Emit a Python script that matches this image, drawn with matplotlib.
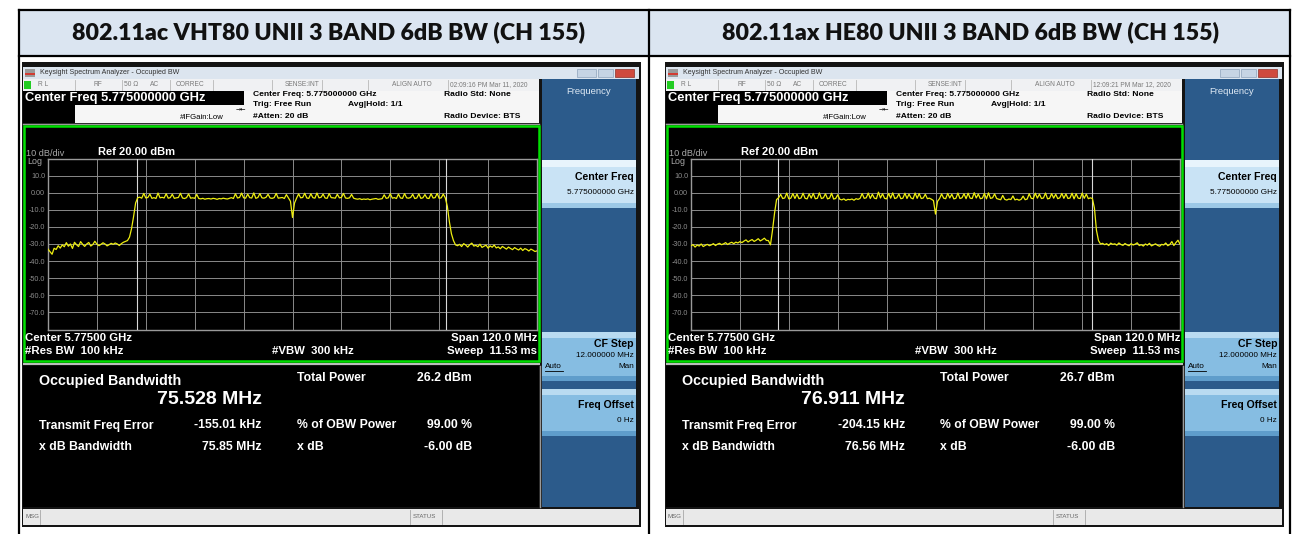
import numpy as np
import matplotlib
matplotlib.use('Agg')
import matplotlib.pyplot as plt
from matplotlib.patches import Rectangle

plt.rcParams['font.family'] = ['Liberation Sans', 'DejaVu Sans']

W, H = 1292, 534

TITLES = ['802.11ac VHT80 UNII 3 BAND 6dB BW (CH 155)',
          '802.11ax HE80 UNII 3 BAND 6dB BW (CH 155)']
TIMESTAMPS = ['02:09:16 PM Mar 11, 2020', '12:09:21 PM Mar 12, 2020']
OBW = ['75.528 MHz', '76.911 MHz']
TOTAL_POWER = ['26.2 dBm', '26.7 dBm']
FREQ_ERROR = ['-155.01 kHz', '-204.15 kHz']
XDB_BW = ['75.85 MHz', '76.56 MHz']
OBW_PCT = ['99.00 %', '99.00 %']
XDB = ['-6.00 dB', '-6.00 dB']
MARKERS = [(5736.9, 5812.7), (5736.3, 5813.3)]

FREQ_START, FREQ_STOP = 5715.0, 5835.0
DIV_MHZ = 12
REF_DBM, DB_DIV = 20, 10
Y_LABELS = ['10.0', '0.00', '-10.0', '-20.0', '-30.0', '-40.0', '-50.0', '-60.0', '-70.0']
Y_LEVELS = [10, 0, -10, -20, -30, -40, -50, -60, -70]

# trace levels in dBm, 0.5 MHz apart from 5715 to 5835 MHz
TRACE_AC = [
    -33.0, -34.5, -36.0, -32.5, -33.2, -31.0, -32.4, -30.5, -31.6, -29.2,
    -31.3, -30.0, -32.6, -29.0, -30.4, -31.5, -28.6, -30.2, -31.4, -30.0,
    -29.1, -31.2, -30.3, -28.4, -30.1, -31.0, -30.2, -29.3, -30.0, -31.1,
    -30.4, -29.6, -30.2, -29.4, -30.0, -30.9, -29.8, -29.0, -28.5,
    -28.0, -26.0, -21.0, -14.0, -6.0,
    -3.0, -2.6, -3.2, -0.4, -3.1, -2.8, -0.8, -3.3, -2.9, -3.4,
    -0.2, -3.0, -2.7, -3.1, -0.6, -3.2, -2.9, -0.9, -3.3, -3.0,
    -2.8, -0.3, -3.1, -3.4, -2.9, -0.7, -3.2, -3.0, -3.3, -1.0,
    -3.4, -3.6, -3.3, -3.8, -3.5, -3.4, -3.7, -3.3, -3.5, -3.9,
    -3.4, -3.6, -3.2, -3.5, -3.7, -3.3, -2.9, -3.4,
    -0.6, -3.1, -2.8, -0.2, -3.0, -3.2, -0.8, -2.9, -3.1, -0.1,
    -3.3, -2.8, -0.5, -3.0, -3.2, -2.7, -0.9, -3.1, -3.3, -2.9,
    -0.4, -3.2, -3.0, -2.8, -3.4, -1.1, -3.1, -5.0,
    -14.5,
    -6.0, -3.2, -0.7, -3.0, -2.8, -0.3, -3.1, -3.3, -0.6, -2.9,
    -3.2, -0.2, -3.0, -2.7, -0.8, -3.1, -3.3, -0.5, -2.9, -3.0,
    -3.2, -0.9, -3.0, -2.8, -0.4, -3.1, -3.3, -3.0, -1.0, -3.2,
    -3.6, -3.8, -3.5, -4.0, -3.7, -3.9, -3.6, -4.1, -3.8, -3.6,
    -3.4, -3.9, -3.7, -3.5,
    -1.2, -3.3, -3.0, -0.6, -3.2, -2.9, -3.4, -0.8, -3.1, -3.3,
    -0.5, -3.0, -3.2, -2.8, -0.9, -3.4, -3.1, -0.7, -3.3, -3.0,
    -1.1, -3.2, -3.4, -0.6, -3.1, -2.9, -0.4, -3.3, -3.0, -0.8, -3.1,
    -8.0, -17.0, -24.0, -28.0, -30.5,
    -31.0, -30.2, -31.5, -29.8, -30.6, -31.8, -30.4, -29.5, -31.2, -30.8,
    -31.6, -30.1, -32.0, -31.3, -30.7, -32.4, -31.1, -31.9, -30.6, -32.3,
    -31.7, -32.8, -31.4, -32.2, -33.0, -31.8, -32.6, -33.3, -32.1, -32.9,
    -33.5, -32.4, -33.8, -32.7, -33.2, -34.1, -33.0, -33.6, -34.4, -34.0,
]

TRACE_AX = [
    -31.0, -30.4, -31.8, -30.6, -31.2, -30.0, -31.5, -30.8, -30.2, -31.0,
    -30.5, -29.8, -30.9, -30.1, -29.6, -30.4, -29.9, -29.2, -30.3, -29.5,
    -29.0, -29.8, -28.9, -29.4, -28.6, -29.2, -28.3, -27.6, -28.8, -28.0,
    -27.4, -28.5, -27.8, -26.9, -28.2, -27.5, -26.6, -27.9, -28.0,
    -30.5, -22.0, -12.0, -4.0, -3.0,
    -1.0, -3.4, -3.1, -0.2, -3.6, -3.2, -0.5, -3.4, -0.8, -3.5,
    -3.1, -0.3, -3.3, -3.6, -0.7, -3.2, -0.4, -3.5, -3.3, -0.1,
    -3.4, -3.0, -0.6, -3.6, -3.2, -0.3, -3.7, -3.4, -1.2,
    -3.8, -4.2, -3.6, -4.5, -3.9, -4.1, -3.7, -4.4, -3.5, -3.9, -3.3,
    -0.5, -3.3, -3.0, -0.2, -3.4, -0.9, -3.2, -3.5, 0.3, -3.1,
    -0.6, -3.3, -3.6, -0.4, -3.2, -0.1, -3.4, -3.0, -0.7, -3.5,
    -3.2, -0.3, -3.4, -0.8, -3.1, -3.6, -0.2, -3.3, -0.5, -3.4,
    -3.1, -0.9, -3.5, -3.2, -3.8,
    -4.6, -12.5,
    -5.0, -3.4, -0.7, -3.2, -3.5, -0.4, -3.1, -0.9, -3.6, -3.3,
    -0.2, -3.4, -3.0, -0.6, -3.5, -0.3, -3.2, -3.4, 0.0, -3.1,
    -0.8, -3.5, -3.2, -0.4, -3.6, -0.1, -3.3, -3.0, -0.7, -3.4,
    -3.8, -4.1, -1.6, -3.9, -4.3, -3.7, -4.0, -1.9, -4.2, -3.8,
    -4.4, -3.9, -2.0, -4.1, -3.7,
    -0.6, -3.3, -3.5, -0.3, -3.2, -0.8, -3.4, -3.1, -0.2, -3.6,
    -3.3, -0.5, -3.2, -0.9, -3.5, -3.0, -0.4, -3.3, -0.7, -3.4,
    -3.1, -0.3, -3.6, -0.6, -3.2, -3.4, -0.2, -3.3, -0.8, -3.5, -3.0,
    -3.4, -9.0, -22.0, -28.0, -30.0,
    -29.6, -30.4, -29.8, -30.9, -29.5, -30.2, -29.9, -30.7, -29.4, -30.3,
    -30.8, -29.7, -30.5, -31.0, -29.8, -30.6, -30.1, -29.3, -30.9, -30.4,
    -31.2, -30.0, -30.7, -29.6, -31.1, -30.5, -29.9, -30.8, -31.3, -30.2,
    -30.6, -29.4, -31.0, -30.3, -28.6, -30.9, -29.2, -27.8, -30.1,
]
TRACES = [TRACE_AC, TRACE_AX]

fig = plt.figure(figsize=(W / 100, H / 100), dpi=100)
bg = fig.add_axes([0, 0, 1, 1])
bg.set_xlim(0, W)
bg.set_ylim(H, 0)
bg.axis('off')


def box(x0, y0, x1, y1, fc, ec='none', lw=0, z=1):
    bg.add_patch(Rectangle((x0, y0), x1 - x0, y1 - y0, facecolor=fc,
                           edgecolor=ec, linewidth=lw, zorder=z))


def txt(x, y, s, size=6, color='black', weight='bold', ha='left', **kw):
    bg.text(x, y, s, fontsize=size, color=color, fontweight=weight,
            ha=ha, va='center', zorder=5, **kw)


# table
box(19, 10, 649, 56, '#dbe5f1')
box(649, 10, 1290, 56, '#dbe5f1')
for x in (19, 649, 1290):
    bg.plot([x, x], [10, 534], color='black', lw=1.6, zorder=6)
for y in (10, 56):
    bg.plot([19, 1290], [y, y], color='black', lw=1.6, zorder=6)
for x, t in zip((328, 971), TITLES):
    bg.text(x, 32, t, fontsize=16.7, fontweight='heavy',
            family=['Lato', 'DejaVu Sans'], ha='center', va='center', color='#111111')


def screen(k):
    o = 643 * k
    trace = TRACES[k]
    # window frame
    box(o + 22, 62, o + 641, 527, '#141414')
    # title bar
    box(o + 23, 67, o + 639, 79, '#dce5ef')
    box(o + 25, 69, o + 35, 77, '#9a9a9a')
    box(o + 25, 73, o + 35, 75, '#d23b32')
    txt(o + 40, 73, 'Keysight Spectrum Analyzer - Occupied BW', size=5.1,
        color='#333333', weight='normal')
    box(o + 577, 69, o + 596, 77, '#c6d4e4', ec='#8da2bb', lw=0.5)
    box(o + 598, 69, o + 613, 77, '#c6d4e4', ec='#8da2bb', lw=0.5)
    box(o + 615, 69, o + 634, 77, '#cf4a3e', ec='#8d3028', lw=0.5)
    # status row
    box(o + 23, 79, o + 539, 91, '#f0f1f3')
    box(o + 24, 81, o + 31, 89, '#22cc22')
    for sx in (75, 122, 170, 213, 272, 322, 368, 448):
        bg.plot([o + sx, o + sx], [80, 90], color='#b8b8b8', lw=0.6, zorder=2)
    for sx, s in [(38, 'R L'), (94, 'RF'), (124, '50 Ω'), (150, 'AC'), (176, 'CORREC'),
                  (285, 'SENSE:INT'), (392, 'ALIGN AUTO'), (450, TIMESTAMPS[k])]:
        txt(o + sx, 85, s, size=4.8, color='#7a7a7a', weight='normal')
    # header
    box(o + 23, 91, o + 539, 123, '#f6f6f6')
    box(o + 23, 91, o + 244, 105, 'black')
    box(o + 23, 105, o + 75, 123, 'black')
    bg.plot([o + 23, o + 539], [123.5, 123.5], color='#9a9a9a', lw=1, zorder=2)
    txt(o + 25, 97.5, 'Center Freq 5.775000000 GHz', size=9.3, color='white')
    txt(o + 253, 95, 'Center Freq: 5.775000000 GHz', size=6.1)
    txt(o + 253, 104.5, 'Trig: Free Run', size=6.1)
    txt(o + 348, 104.5, 'Avg|Hold: 1/1', size=6.1)
    txt(o + 253, 116, '#Atten: 20 dB', size=6.1)
    txt(o + 180, 117.5, '#IFGain:Low', size=5.6, weight='normal')
    txt(o + 236, 108.5, '→←', size=4.5, weight='normal', family=['DejaVu Sans'])
    txt(o + 444, 95, 'Radio Std: None', size=6.1)
    txt(o + 444, 116, 'Radio Device: BTS', size=6.1)
    # softkey panel
    box(o + 542, 79, o + 636, 507, '#2c5b8b')
    txt(o + 589, 92, 'Frequency', size=6.8, color='#dde8f3', ha='center', weight='normal')
    box(o + 542, 160, o + 636, 208, '#c9e3f5')
    box(o + 542, 160, o + 636, 167, '#e8f4fc')
    box(o + 542, 203, o + 636, 208, '#9cc8e6')
    txt(o + 634, 177, 'Center Freq', size=7.6, ha='right')
    txt(o + 634, 192.5, '5.775000000 GHz', size=5.9, weight='normal', ha='right')
    for y0, y1 in [(332, 381), (389, 436)]:
        box(o + 542, y0, o + 636, y1, '#86bde2')
        box(o + 542, y0, o + 636, y0 + 6, '#b9dbf1')
        box(o + 542, y1 - 5, o + 636, y1, '#5f9dcb')
    txt(o + 634, 344, 'CF Step', size=7.6, ha='right')
    txt(o + 634, 355.5, '12.000000 MHz', size=5.9, weight='normal', ha='right')
    txt(o + 545, 367, 'Auto', size=5.9, weight='normal')
    bg.plot([o + 545, o + 563], [371, 371], color='black', lw=0.6, zorder=5)
    txt(o + 634, 367, 'Man', size=5.9, weight='normal', ha='right')
    txt(o + 634, 405, 'Freq Offset', size=7.6, ha='right')
    txt(o + 634, 420, '0 Hz', size=5.9, weight='normal', ha='right')
    # screen area
    box(o + 24, 126, o + 539, 361, 'black', ec='#00e000', lw=1.8, z=2)
    txt(o + 26, 153, '10 dB/div', size=6.6, color='#a8a8a8', weight='normal')
    txt(o + 98, 152, 'Ref 20.00 dBm', size=8, color='white')
    txt(o + 27, 161.5, 'Log', size=6.4, color='#a8a8a8', weight='normal')
    txt(o + 25, 338, 'Center 5.77500 GHz', size=8.2, color='white')
    txt(o + 25, 351, '#Res BW  100 kHz', size=8.2, color='white')
    txt(o + 272, 351, '#VBW  300 kHz', size=8.2, color='white')
    txt(o + 537, 338, 'Span 120.0 MHz', size=8.2, color='white', ha='right')
    txt(o + 537, 351, 'Sweep  11.53 ms', size=8.2, color='white', ha='right')
    # result area
    box(o + 23, 363, o + 540, 365, '#bcbcbc')
    box(o + 23, 366, o + 539, 507, 'black')
    bg.plot([o + 539.5, o + 539.5], [366, 507], color='#9a9a9a', lw=1, zorder=3)
    txt(o + 39, 381, 'Occupied Bandwidth', size=10.3, color='white')
    txt(o + 262, 400, OBW[k], size=14, color='white', ha='right')
    txt(o + 297, 378, 'Total Power', size=8.8, color='white')
    txt(o + 472, 378, TOTAL_POWER[k], size=8.8, color='white', ha='right')
    txt(o + 39, 425.5, 'Transmit Freq Error', size=8.8, color='white')
    txt(o + 262, 425.5, FREQ_ERROR[k], size=8.8, color='white', ha='right')
    txt(o + 297, 425.5, '% of OBW Power', size=8.8, color='white')
    txt(o + 472, 425.5, OBW_PCT[k], size=8.8, color='white', ha='right')
    txt(o + 39, 446.5, 'x dB Bandwidth', size=8.8, color='white')
    txt(o + 262, 446.5, XDB_BW[k], size=8.8, color='white', ha='right')
    txt(o + 297, 446.5, 'x dB', size=8.8, color='white')
    txt(o + 472, 446.5, XDB[k], size=8.8, color='white', ha='right')
    # message bar
    box(o + 23, 509, o + 639, 525, '#e9e9e9')
    for sx in (40, 410, 442):
        bg.plot([o + sx, o + sx], [510, 524], color='#a8a8a8', lw=0.6, zorder=3)
    txt(o + 25, 517, 'MSG', size=4.4, color='#666666', weight='normal')
    txt(o + 413, 517, 'STATUS', size=4.4, color='#666666', weight='normal')

    # graticule and trace
    gx0, gx1, gy0, gy1 = o + 48, o + 537, 158.5, 329.5
    ax = fig.add_axes([gx0 / W, 1 - gy1 / H, (gx1 - gx0) / W, (gy1 - gy0) / H])
    ax.set_facecolor('black')
    freqs = np.linspace(FREQ_START, FREQ_STOP, len(trace))
    ax.plot(freqs, trace, color='#eeee10', lw=0.9, zorder=4)
    for m in MARKERS[k]:
        ax.axvline(m, color='#d8d8d8', lw=0.8, zorder=3)
    ax.set_xlim(FREQ_START, FREQ_STOP)
    ax.set_ylim(REF_DBM - 10 * DB_DIV, REF_DBM)
    ax.set_xticks(np.arange(FREQ_START, FREQ_STOP + 1, DIV_MHZ))
    ax.set_xticklabels([])
    ax.set_yticks(Y_LEVELS)
    ax.set_yticklabels(Y_LABELS)
    ax.tick_params(length=0, labelsize=5.2, labelcolor='#8c8c8c', pad=2)
    ax.grid(color='#8a8a8a', lw=0.7, zorder=1)
    for sp in ax.spines.values():
        sp.set_color('#9a9a9a')
        sp.set_linewidth(1)


screen(0)
screen(1)

fig.savefig('out.png', dpi=100)
